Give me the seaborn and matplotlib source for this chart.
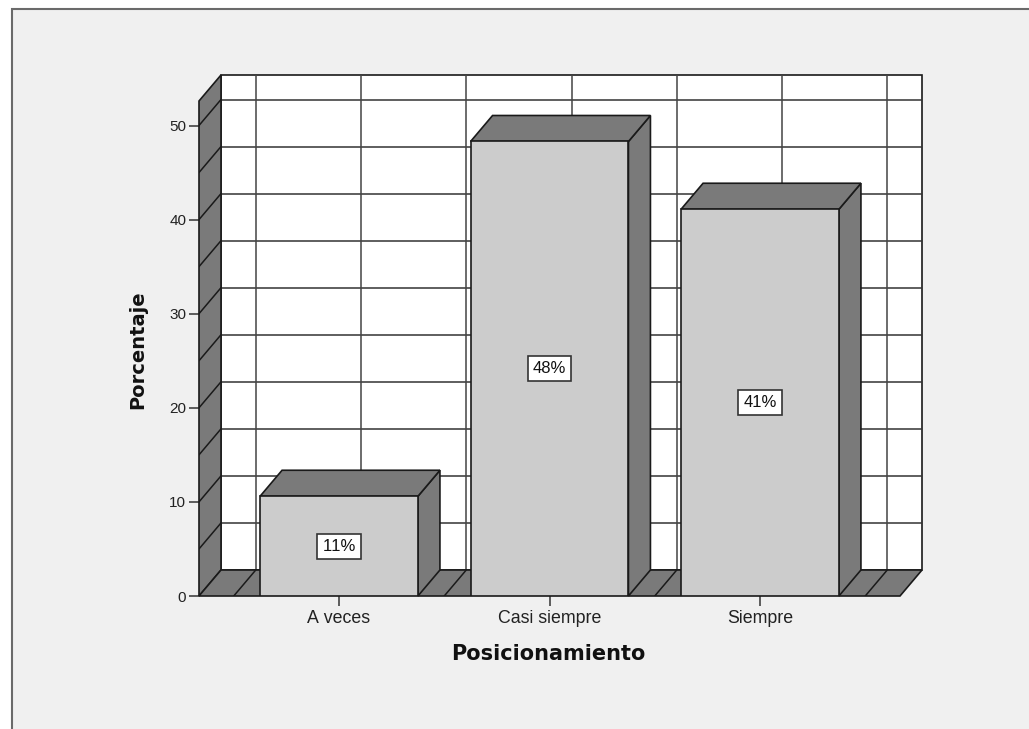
import pandas as pd
import seaborn as sns
from matplotlib import pyplot as plt
from matplotlib.patches import Polygon, Rectangle

categories = ['A veces', 'Casi siempre', 'Siempre']
percentages = [10.6, 48.3, 41.1]
bar_labels = ['11%', '48%', '41%']
y_ticks = [0, 10, 20, 30, 40, 50]

W, H = 1029, 729
BG = '#f0f0f0'
SIDE = '#7a7a7a'
FRONT = '#cccccc'
EDGE = '#1a1a1a'

# pixel frame of the axes, 3d depth is given in data units
px_left, px_right, px_top, px_bottom = 199, 922, 75, 596
x_unit = 210.5
y_unit = 9.41
cat0_px = 339
depth_x = 22 / x_unit
depth_y = 26 / y_unit

sns.set_theme(style='white')
plt.rcParams['font.family'] = ['Liberation Sans', 'DejaVu Sans']
plt.rcParams['text.kerning_factor'] = 6

fig = plt.figure(figsize=(W / 100, H / 100), dpi=100, facecolor='white')
fig.add_artist(Rectangle((11.5 / W, -0.1), 1.2, 1.1 - 8.5 / H, transform=fig.transFigure,
                         facecolor=BG, edgecolor='#6a6a6a', lw=1.5, zorder=-1))
ax = fig.add_axes([px_left / W, 1 - px_bottom / H, (px_right - px_left) / W, (px_bottom - px_top) / H])
ax.patch.set_alpha(0)

df = pd.DataFrame({'Posicionamiento': categories, 'Porcentaje': percentages})
sns.barplot(data=df, x='Posicionamiento', y='Porcentaje', ax=ax, width=0.75, color=FRONT,
            saturation=1, edgecolor=EDGE, linewidth=1.2, zorder=6)

x_min = (px_left - cat0_px) / x_unit
x_max = (px_right - cat0_px) / x_unit
y_max = (px_bottom - px_top) / y_unit
wall_top = y_max - depth_y
ax.set_xlim(x_min, x_max)
ax.set_ylim(0, y_max)


def poly(points, face, z):
    ax.add_patch(Polygon(points, closed=True, facecolor=face, edgecolor=EDGE, lw=1.2,
                         zorder=z, clip_on=False))


# bars first in ax.patches, keep them before the walls get added
bars = list(ax.patches[:len(categories)])

# back wall
poly([(x_min + depth_x, depth_y), (x_max, depth_y), (x_max, y_max), (x_min + depth_x, y_max)], 'white', 1)
# left wall and floor
poly([(x_min, 0), (x_min + depth_x, depth_y), (x_min + depth_x, y_max), (x_min, wall_top)], SIDE, 3)
poly([(x_min, 0), (x_min + depth_x, depth_y), (x_max, depth_y), (x_max - depth_x, 0)], SIDE, 3)

# grid on the walls
for k in range(1, 11):
    v = k * 5
    ax.plot([x_min + depth_x, x_max], [v + depth_y, v + depth_y], color='#333333', lw=1.1, zorder=2)
    ax.plot([x_min, x_min + depth_x], [v, v + depth_y], color=EDGE, lw=1.1, zorder=4)
for k in range(7):
    c = -0.5 + k * 0.5
    ax.plot([c + depth_x, c + depth_x], [depth_y, y_max], color='#444444', lw=1.1, zorder=2)
    ax.plot([c, c + depth_x], [0, depth_y], color=EDGE, lw=1.1, zorder=4)

# bar sides, tops and value boxes
for bar, label in zip(bars, bar_labels):
    x0, x1 = bar.get_x(), bar.get_x() + bar.get_width()
    h = bar.get_height()
    poly([(x1, 0), (x1 + depth_x, depth_y), (x1 + depth_x, h + depth_y), (x1, h)], SIDE, 5)
    poly([(x0, h), (x0 + depth_x, h + depth_y), (x1 + depth_x, h + depth_y), (x1, h)], SIDE, 5)
    ax.text((x0 + x1) / 2, h / 2, label, ha='center', va='center', fontsize=12, color='#111111', zorder=8,
            bbox=dict(boxstyle='square,pad=0.3', facecolor='white', edgecolor='#333333', lw=1.2))

for side in ['top', 'right', 'bottom', 'left']:
    ax.spines[side].set_visible(False)
ax.set_yticks(y_ticks)
ax.tick_params(axis='both', which='major', length=7.2, width=1.1, color='#333333', left=True, bottom=True,
               labelcolor='#222222')
ax.tick_params(axis='x', labelsize=12.8, pad=3)
ax.tick_params(axis='y', labelsize=11, pad=2)
ax.grid(False)

# wider bold face, the original label text is widely spaced
ax.set_xlabel('Posicionamiento', fontsize=15, fontweight='bold', color='#111111', labelpad=0, family='DejaVu Sans')
ax.set_ylabel('Porcentaje', fontsize=14, fontweight='bold', color='#111111', labelpad=0, family='DejaVu Sans')
ax.xaxis.set_label_coords((548 - px_left) / (px_right - px_left), -(654 - px_bottom) / (px_bottom - px_top))
ax.xaxis.label.set_va('center')
ax.yaxis.set_label_coords(-(px_left - 138) / (px_right - px_left), (px_bottom - 350) / (px_bottom - px_top))
ax.yaxis.label.set_va('center')

fig.savefig('out.png', dpi=100)
